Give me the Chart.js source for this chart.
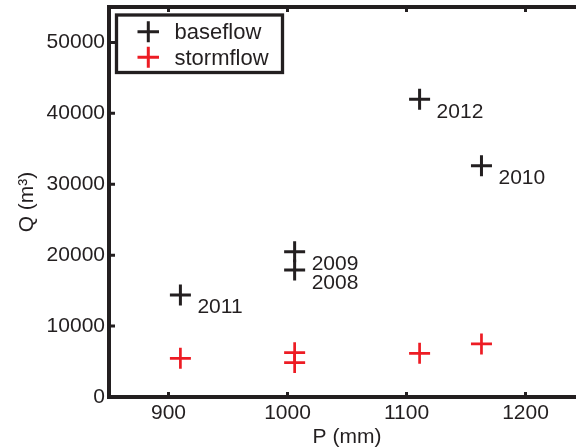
<!DOCTYPE html>
<html><head><meta charset="utf-8">
<script src="https://cdn.jsdelivr.net/npm/chart.js@4/dist/chart.umd.min.js"></script>
<style>html,body{margin:0;padding:0;background:#fff;overflow:hidden}
#wrap{width:576px;height:447px;overflow:hidden;position:relative;background:#fff}
canvas{display:block}
</style></head><body><div id="wrap"><canvas id="c" width="585" height="447"></canvas></div>
<script>
const years = ['2008', '2009', '2010', '2011', '2012'];
const precipMm = [1006, 1006, 1163, 910, 1111];
const baseflowQ = [17900, 20500, 32600, 14400, 42000];
const stormflowQ = [4850, 6250, 7480, 5460, 6160];
const xTicks = [900, 1000, 1100, 1200];
const yTicks = [0, 10000, 20000, 30000, 40000, 50000];
const seriesNames = ['baseflow', 'stormflow'];
const seriesColors = ['#231f20', '#ed1c24'];
const xTitle = 'P (mm)';
const yTitle = 'Q (m³)';

const FONT = "'Liberation Sans', Arial, Helvetica, sans-serif";
const INK = '#231f20';

const toPts = (ys) => precipMm.map((x, i) => ({x: x, y: ys[i]}));

const zeroPad = s => { s.paddingTop = 0; s.paddingBottom = 0; s.paddingLeft = 0; s.paddingRight = 0; };

const decor = {
  id: 'decor',
  afterDraw(chart) {
    const ctx = chart.ctx, a = chart.chartArea;
    const xs = chart.scales.x, ysc = chart.scales.y;
    ctx.save();
    // frame
    ctx.strokeStyle = INK;
    ctx.lineWidth = 4;
    ctx.lineCap = 'butt';
    ctx.beginPath();
    ctx.moveTo(a.right + 5, a.top); ctx.lineTo(a.left - 2, a.top);
    ctx.moveTo(a.left, a.top - 2); ctx.lineTo(a.left, a.bottom + 2);
    ctx.moveTo(a.left - 2, a.bottom); ctx.lineTo(a.right + 5, a.bottom);
    ctx.stroke();
    // inward ticks
    ctx.lineWidth = 3;
    ctx.beginPath();
    yTicks.forEach(v => {
      const py = ysc.getPixelForValue(v);
      ctx.moveTo(a.left, py); ctx.lineTo(a.left + 6, py);
    });
    xTicks.forEach(v => {
      const px = xs.getPixelForValue(v);
      ctx.moveTo(px, a.bottom); ctx.lineTo(px, a.bottom - 5);
      ctx.moveTo(px, a.top); ctx.lineTo(px, a.top + 5);
    });
    ctx.stroke();
    // year labels
    ctx.fillStyle = INK;
    ctx.font = '21px ' + FONT;
    ctx.textAlign = 'left';
    ctx.textBaseline = 'alphabetic';
    const meta = chart.getDatasetMeta(0);
    meta.data.forEach((pt, i) => {
      ctx.fillText(years[i], pt.x + 17, pt.y + 18.5);
    });
    // axis titles
    ctx.textAlign = 'center';
    ctx.fillText(xTitle, (a.left + a.right) / 2, 442.5);
    ctx.save();
    ctx.translate(33, (a.top + a.bottom) / 2);
    ctx.rotate(-Math.PI / 2);
    ctx.fillText(yTitle, 0, 0);
    ctx.restore();
    // legend
    ctx.fillStyle = '#fff';
    ctx.fillRect(116.5, 15, 166, 57.5);
    ctx.strokeStyle = INK;
    ctx.lineWidth = 3.3;
    ctx.strokeRect(116.5, 15, 166, 57.5);
    const rows = [31.7, 57.3];
    const bases = [39, 65];
    chart.data.datasets.forEach((ds, i) => {
      const cy = rows[i];
      ctx.strokeStyle = ds.borderColor;
      ctx.lineWidth = 3;
      ctx.beginPath();
      ctx.moveTo(137.5, cy); ctx.lineTo(159, cy);
      ctx.moveTo(148.3, cy - 10.5); ctx.lineTo(148.3, cy + 10.5);
      ctx.stroke();
      ctx.fillStyle = INK;
      ctx.font = '22px ' + FONT;
      ctx.textAlign = 'left';
      ctx.fillText(ds.label, 174.5, bases[i]);
    });
    ctx.restore();
  }
};

new Chart(document.getElementById('c'), {
  type: 'scatter',
  data: {
    datasets: [
      {label: seriesNames[0], data: toPts(baseflowQ), pointStyle: 'cross', radius: 10.5,
       borderColor: seriesColors[0], backgroundColor: seriesColors[0], borderWidth: 3},
      {label: seriesNames[1], data: toPts(stormflowQ), pointStyle: 'cross', radius: 10.5,
       borderColor: seriesColors[1], backgroundColor: seriesColors[1], borderWidth: 2.7}
    ]
  },
  options: {
    responsive: false,
    animation: false,
    devicePixelRatio: 1,
    events: [],
    layout: {autoPadding: false, padding: {left: 0, top: 7, right: 0, bottom: 0}},
    plugins: {legend: {display: false}, tooltip: {enabled: false}},
    scales: {
      x: {
        type: 'linear', min: 850, max: 1250,
        afterBuildTicks: s => { s.ticks = xTicks.map(v => ({value: v})); },
        afterFit: s => { s.height = 50; zeroPad(s); },
        grid: {display: false, drawTicks: false},
        border: {display: false},
        ticks: {color: INK, font: {family: FONT, size: 21}, padding: 4, maxRotation: 0, autoSkip: false,
                callback: v => String(v)}
      },
      y: {
        type: 'linear', min: 0, max: 55000,
        afterBuildTicks: s => { s.ticks = yTicks.map(v => ({value: v})); },
        afterFit: s => { s.width = 109; zeroPad(s); },
        grid: {display: false, drawTicks: false},
        border: {display: false},
        ticks: {color: INK, font: {family: FONT, size: 21, lineHeight: 0.6}, padding: 4, autoSkip: false,
                callback: v => String(v)}
      }
    }
  },
  plugins: [decor]
});
</script></body></html>
